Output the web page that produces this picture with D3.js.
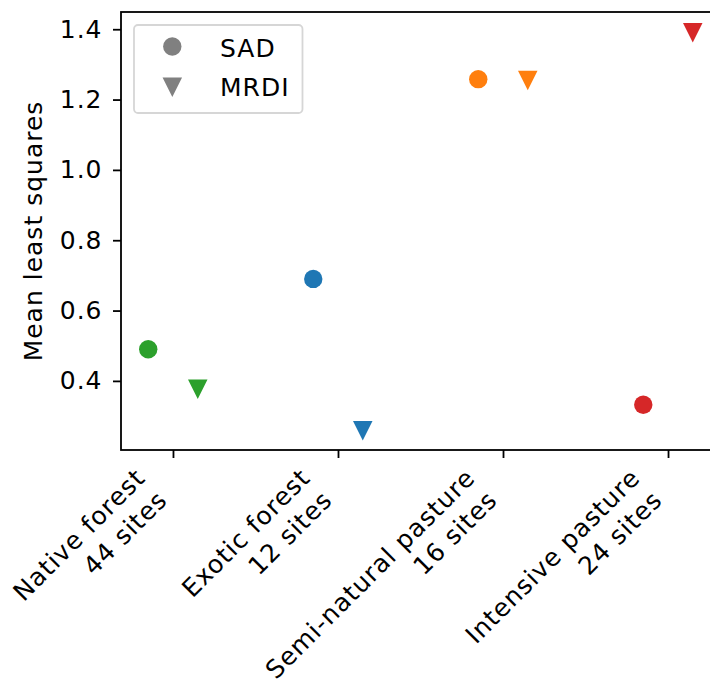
<!DOCTYPE html>
<html>
<head>
<meta charset="utf-8">
<script src="https://cdn.jsdelivr.net/npm/d3@7"></script>
<style>
  html, body { margin: 0; padding: 0; background: #fff; }
  svg { display: block; font-family: "DejaVu Sans", sans-serif; }
  text { letter-spacing: 1px; }
</style>
</head>
<body>
<svg id="chart" width="710" height="683"></svg>
<script>
// Land-use categories with their site counts
const categories = ["Native forest", "Exotic forest", "Semi-natural pasture", "Intensive pasture"];
const siteCounts = ["44 sites", "12 sites", "16 sites", "24 sites"];
const colors = ["#2ca02c", "#1f77b4", "#ff7f0e", "#d62728"];

// Mean least squares per category for each model
const sadValues = [0.49, 0.69, 1.258, 0.332];
const mrdiValues = [0.376, 0.258, 1.254, 1.39];

const yTicks = [0.4, 0.6, 0.8, 1.0, 1.2, 1.4];
const seriesNames = ["SAD", "MRDI"];

const svg = d3.select("#chart");
const fontSize = 25;

const x = d3.scaleLinear().domain([-0.315, 3.315]).range([121, 720]);
const y = d3.scaleLinear().domain([0.2035, 1.449]).range([450, 12]);

// Frame (right spine falls outside the canvas)
svg.append("rect")
  .attr("x", x.range()[0]).attr("y", y.range()[1])
  .attr("width", x.range()[1] - x.range()[0])
  .attr("height", y.range()[0] - y.range()[1])
  .attr("fill", "none").attr("stroke", "#000").attr("stroke-width", 1.8);

// Y axis
const yAxis = d3.axisLeft(y).tickValues(yTicks).tickFormat(d3.format(".1f"))
  .tickSize(8).tickPadding(10.5);
const gy = svg.append("g").attr("transform", `translate(${x.range()[0]},0)`).call(yAxis);
gy.select(".domain").remove();
gy.selectAll(".tick line").attr("stroke", "#000").attr("stroke-width", 1.8);
gy.selectAll(".tick text").attr("font-size", fontSize).attr("font-family", "DejaVu Sans").attr("fill", "#000");

// X axis ticks
const xAxis = d3.axisBottom(x).tickValues(d3.range(categories.length)).tickFormat("")
  .tickSize(8);
const gx = svg.append("g").attr("transform", `translate(0,${y.range()[0]})`).call(xAxis);
gx.select(".domain").remove();
gx.selectAll(".tick line").attr("stroke", "#000").attr("stroke-width", 1.8);

// Rotated two-line category labels, right-aligned, top-right corner at the tick
const lineGap = 1.25 * fontSize;
const blockH = fontSize * 1.17 + lineGap;
categories.forEach((c, i) => {
  const ox = x(i) - blockH * Math.SQRT1_2;
  const oy = y.range()[0] + 13;
  const t = svg.append("text")
    .attr("transform", `translate(${ox},${oy}) rotate(-45)`)
    .attr("text-anchor", "end")
    .attr("font-size", fontSize)
    .attr("fill", "#000");
  t.append("tspan").attr("x", 0).attr("y", fontSize * 0.93).text(c);
  t.append("tspan").attr("x", 0).attr("y", fontSize * 0.93 + lineGap).text(siteCounts[i]);
});

// Y axis title
svg.append("text")
  .attr("transform", `translate(42,${(y.range()[0] + y.range()[1]) / 2}) rotate(-90)`)
  .attr("text-anchor", "middle")
  .attr("font-size", fontSize)
  .attr("fill", "#000")
  .text("Mean least squares");

// Markers
const offset = 0.15;
function triangleDown(sel, cx, cy, s) {
  const h = s / 2;
  sel.append("path")
    .attr("d", `M${cx - h},${cy - h}L${cx + h},${cy - h}L${cx},${cy + h}Z`);
}

const plot = svg.append("g");
sadValues.forEach((v, i) => {
  plot.append("circle")
    .attr("cx", x(i - offset)).attr("cy", y(v)).attr("r", 9.2)
    .attr("fill", colors[i]);
});
mrdiValues.forEach((v, i) => {
  const g = plot.append("g").attr("fill", colors[i]);
  triangleDown(g, x(i + offset), y(v), 19.5);
});

// Legend
const lg = svg.append("g");
lg.append("rect")
  .attr("x", 134).attr("y", 25).attr("width", 168.5).attr("height", 88)
  .attr("rx", 4).attr("fill", "#fff").attr("fill-opacity", 0.8)
  .attr("stroke", "#d6d6d6").attr("stroke-width", 1.8);
lg.append("circle").attr("cx", 172.3).attr("cy", 46.5).attr("r", 9.2).attr("fill", "#808080");
triangleDown(lg.append("g").attr("fill", "#808080"), 172.3, 87.2, 19.5);
seriesNames.forEach((n, i) => {
  lg.append("text")
    .attr("x", 220).attr("y", 56.7 + i * 39)
    .attr("font-size", fontSize).attr("fill", "#000")
    .text(n);
});
</script>
</body>
</html>
